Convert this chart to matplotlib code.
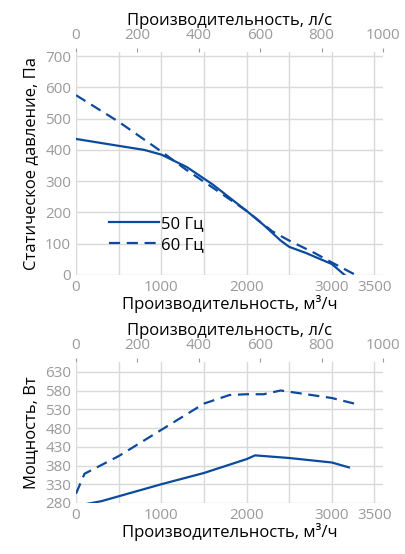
import matplotlib
matplotlib.use("Agg")
import matplotlib.pyplot as plt

x50_p = [0, 500, 800, 1000, 1300, 1600, 2000, 2200, 2400, 2500, 2700, 3000, 3150]
p50 = [435, 413, 400, 385, 345, 290, 205, 160, 110, 90, 70, 35, 0]
x60_p = [0, 500, 1000, 1300, 1600, 2000, 2300, 2500, 2800, 3000, 3280]
p60 = [575, 490, 395, 335, 280, 205, 140, 110, 70, 40, 0]
x50_w = [0, 300, 1000, 1500, 2000, 2100, 2500, 3000, 3200]
w50 = [272, 285, 330, 360, 397, 407, 400, 388, 375]
x60_w = [0, 100, 500, 1000, 1500, 1800, 2000, 2200, 2400, 3000, 3300]
w60 = [305, 358, 405, 475, 545, 568, 570, 570, 580, 560, 543]

plt.rcParams['font.family'] = ['Open Sans', 'DejaVu Sans']
C = '#0b4a9c'
TC = '#9a9a9a'
fig = plt.figure(figsize=(4.06, 5.54), dpi=100)
ax1 = fig.add_axes([76/406, 1-275/554, 307/406, 223/554])
ax2 = fig.add_axes([76/406, 1-503/554, 307/406, 141/554])

def style(ax):
    ax.set_xlim(0, 3600)
    ax.set_xticks(range(0, 3501, 500), [str(v) if v % 1000 == 0 or v == 3500 else '' for v in range(0, 3501, 500)])
    ax.grid(True, color='#d9d9d9', lw=1)
    for s in ax.spines.values():
        s.set_visible(False)
    ax.tick_params(colors=TC, labelsize=11, length=0)
    ax.set_xlabel('Производительность, м³/ч', fontsize=12, labelpad=0)
    t = ax.secondary_xaxis('top', functions=(lambda v: v/3.6, lambda v: v*3.6))
    t.set_xticks(range(0, 1001, 200))
    t.tick_params(colors=TC, labelsize=11, length=3)
    t.spines['top'].set_visible(False)
    t.set_xlabel('Производительность, л/с', fontsize=12, labelpad=2)
    ax.set_axisbelow(True)

style(ax1)
ax1.plot(x50_p, p50, color=C, lw=1.6, label='50 Гц')
ax1.plot(x60_p, p60, color=C, lw=1.6, ls=(0, (5, 3)), label='60 Гц')
ax1.set_ylim(0, 713)
ax1.set_yticks(range(0, 701, 100))
ax1.set_ylabel('Статическое давление, Па', fontsize=12)
ax1.legend(loc='lower left', bbox_to_anchor=(0.06, 0.03), frameon=False, fontsize=12,
           handlelength=3, handletextpad=0.1, labelspacing=0.3)

style(ax2)
ax2.plot(x50_w, w50, color=C, lw=1.6)
ax2.plot(x60_w, w60, color=C, lw=1.6, ls=(0, (5, 3)))
ax2.set_ylim(280, 656)
ax2.set_yticks(range(280, 631, 50))
ax2.set_ylabel('Мощность, Вт', fontsize=12)
fig.savefig('out.png', dpi=100)
